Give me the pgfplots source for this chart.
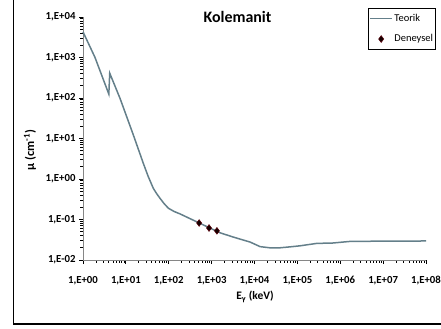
\documentclass[border=0pt]{standalone}
\usepackage{fontspec}
\setmainfont{Carlito}
\usepackage{pgfplots}
\pgfplotsset{compat=1.18}
\definecolor{teorik}{RGB}{100,127,138}
\definecolor{axisgray}{RGB}{134,134,134}
\definecolor{deneyfill}{RGB}{20,0,0}
\definecolor{deneyedge}{RGB}{90,0,10}
\pgfplotsset{
  lineleg/.style={legend image code/.code={\draw[##1] (0bp,0bp) -- (22bp,0bp);}},
  markleg/.style={legend image code/.code={\draw[##1] plot coordinates {(11bp,0bp)};}},
}
\begin{document}
\begin{tikzpicture}[x=1bp,y=1bp]
  \path[use as bounding box] (0,0) rectangle (441,328);
  % outer chart frame (left and bottom edges)
  \draw[black, line width=1.3bp] (13.5,328) -- (13.5,4) -- (441,4);
  \begin{axis}[
    at={(83bp,68bp)}, anchor=south west,
    scale only axis, width=343bp, height=243bp,
    xmode=log, ymode=log,
    xmin=1, xmax=1e8, ymin=1e-2, ymax=1e4,
    axis lines*=left,
    axis line style={axisgray, line width=1bp},
    tick align=outside,
    major tick length=4bp,
    tick style={black, line width=0.8bp},
    minor tick num=0,
    xtick={1,1e1,1e2,1e3,1e4,1e5,1e6,1e7,1e8},
    xticklabels={{1,E+00},{1,E+01},{1,E+02},{1,E+03},{1,E+04},{1,E+05},{1,E+06},{1,E+07},{1,E+08}},
    ytick={1e-2,1e-1,1,1e1,1e2,1e3,1e4},
    yticklabels={{1,E-02},{1,E-01},{1,E+00},{1,E+01},{1,E+02},{1,E+03},{1,E+04}},
    ticklabel style={font=\fontsize{10.8}{13}\selectfont\bfseries},
    xticklabel style={yshift=-9bp},
    yticklabel style={xshift=0bp},
    legend style={
      at={(0.831,1.037)}, anchor=north west,
      draw=black, line width=0.8bp,
      font=\fontsize{10.5}{12.5}\selectfont,
      inner xsep=1bp, inner ysep=4bp,
      row sep=9bp,
      nodes={inner sep=1.5bp},
    },
    legend cell align=left,
    clip=false,
  ]
    % theoretical attenuation curve
    \addplot[teorik, line width=1.5bp, mark=none, lineleg]
      coordinates {
        (1, 4300) (1.9, 1010) (4.0, 125) (4.2, 410) (7.3, 98)
        (14.9, 12.3) (25.5, 2.44) (32.8, 1.19) (43.6, 0.59) (51.8, 0.44)
        (62.5, 0.334) (77.6, 0.248) (98, 0.19) (133, 0.158) (182, 0.138)
        (457, 0.087) (1570, 0.047) (3160, 0.037) (5000, 0.032)
        (7850, 0.0278) (13500, 0.0214) (22900, 0.0200) (38900, 0.0200)
        (70000, 0.0212) (115000, 0.0224) (282000, 0.0257)
        (676000, 0.0263) (1.7e6, 0.0288) (1e7, 0.0292) (1e8, 0.0295)
      };
    \addlegendentry{Teorik}
    % measured values
    \addplot[only marks, mark=diamond*, mark size=3.4bp,
      mark options={fill=deneyfill, draw=deneyedge, line width=0.5bp}, markleg]
      coordinates {(511, 0.082) (870, 0.0617) (1330, 0.0525)};
    \addlegendentry{Deneysel}
  \end{axis}
  % chart title and axis titles
  \node[font=\fontsize{16}{19}\selectfont\bfseries] at (237.5,311) {Kolemanit};
  \node[font=\fontsize{12.5}{15}\selectfont\bfseries, rotate=90] at (30,178) {μ (cm\textsuperscript{-1})};
  \node[font=\fontsize{11.5}{14}\selectfont\bfseries] at (255,31) {E\textsubscript{γ} (keV)};
\end{tikzpicture}
\end{document}
